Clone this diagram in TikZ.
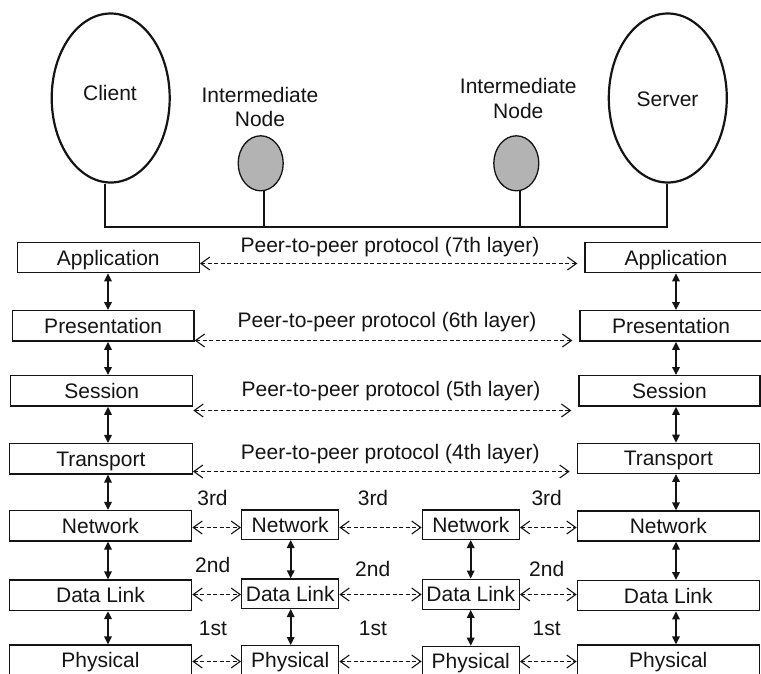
\documentclass[tikz,border=0pt]{standalone}
\usepackage{fontspec}
\setmainfont{Liberation Sans}
\usetikzlibrary{shapes.geometric,arrows.meta}
\definecolor{ink}{HTML}{141414}
\definecolor{relayfill}{HTML}{B3B3B3}
\newcommand\labfont{\fontsize{21pt}{24pt}\selectfont}
\begin{document}
\begin{tikzpicture}[x=1pt,y=-1pt,
  txt/.style={inner sep=0pt, text height=15pt, text depth=0pt, font=\labfont, text=ink},
  lay/.style={txt, draw=ink, line width=1.3pt, minimum height=30.4pt},
  host/.style={ellipse, draw=ink, line width=2.2pt, inner sep=0pt, minimum width=118pt, minimum height=169pt},
  relay/.style={ellipse, draw=ink, fill=relayfill, line width=1.3pt, inner sep=0pt, minimum width=45pt, minimum height=55pt},
  wire/.style={draw=ink, line width=2pt},
  updn/.style={draw=ink, line width=1.6pt, {Triangle[length=8pt,width=7.5pt]}-{Triangle[length=8pt,width=7.5pt]}},
  barb/.tip={Straight Barb[length=9pt,width=13pt,line width=1.1pt]},
  peer/.style={draw=ink, line width=1.1pt, dash pattern=on 4pt off 2.5pt, barb-barb}
]
\useasboundingbox (0,0) rectangle (761,673);
\clip (0,0) rectangle (761,673);

% hosts
\node[host] (client) at (110.7,98) {};
\node[txt] (clientlab) at (110,93) {Client};
\node[host] (server) at (667.8,98) {};
\node[txt] (serverlab) at (667.5,99.3) {Server};
\node[relay] (relay1) at (260.7,163.3) {};
\node[relay] (relay2) at (516.3,163.3) {};
\node[txt] (r1a) at (260,95) {Intermediate};
\node[txt] (r1b) at (260,118.7) {Node};
\node[txt] (r2a) at (518.3,86.3) {Intermediate};
\node[txt] (r2b) at (518.3,110.8) {Node};

% bus
\coordinate (b1) at (105.3,226.7);
\coordinate (b2) at (264.3,226.7);
\coordinate (b3) at (520,226.7);
\coordinate (b4) at (667.3,226.7);
\draw[wire, line join=miter] (client.south -| b1) -- (b1) -- (b4) -- (server.south -| b4);
\draw[wire] (relay1.south -| b2) -- (b2);
\draw[wire] (relay2.south -| b3) -- (b3);

% left stack
\node[lay, minimum width=182pt] (appL) at (108.3,257.5) {Application};
\node[lay, minimum width=181.7pt] (presL) at (103.2,325.9) {Presentation};
\node[lay, minimum width=182pt] (sessL) at (101.7,390.9) {Session};
\node[lay, minimum width=183pt] (transL) at (100.8,458.7) {Transport};
\node[lay, minimum width=182.4pt] (netL) at (100.5,525.7) {Network};
\node[lay, minimum width=182.4pt] (dlL) at (100.5,595.3) {Data Link};
\node[lay, minimum width=182.4pt] (physL) at (100.5,660.2) {Physical};

% intermediate stacks
\node[lay, minimum width=97pt, minimum height=29.3pt] (net1) at (290.2,524.7) {Network};
\node[lay, minimum width=97pt, minimum height=29.3pt] (dl1) at (290.2,593.7) {Data Link};
\node[lay, minimum width=97pt, minimum height=29.3pt] (phys1) at (290.2,660.3) {Physical};
\node[lay, minimum width=97pt, minimum height=29.3pt] (net2) at (470.8,524.7) {Network};
\node[lay, minimum width=97pt, minimum height=30pt] (dl2) at (470.8,594.2) {Data Link};
\node[lay, minimum width=97pt, minimum height=29.3pt] (phys2) at (470.8,661) {Physical};

% right stack
\node[lay, minimum width=182pt] (appR) at (676,257.5) {Application};
\node[lay, minimum width=182pt] (presR) at (671,325.9) {Presentation};
\node[lay, minimum width=181pt] (sessR) at (669.5,390.9) {Session};
\node[lay, minimum width=182pt, minimum height=30pt] (transR) at (668.3,458.3) {Transport};
\node[lay, minimum width=182pt, minimum height=30pt] (netR) at (668.3,526) {Network};
\node[lay, minimum width=182pt, minimum height=30pt] (dlR) at (668.3,595.7) {Data Link};
\node[lay, minimum width=182pt, minimum height=30pt] (physR) at (668.3,660) {Physical};

% vertical arrows
\coordinate (colL) at (108,0);
\coordinate (colM1) at (290.7,0);
\coordinate (colM2) at (470.7,0);
\coordinate (colR) at (676,0);
\draw[updn] (appL.south -| colL) -- (presL.north -| colL);
\draw[updn] (presL.south -| colL) -- (sessL.north -| colL);
\draw[updn] (sessL.south -| colL) -- (transL.north -| colL);
\draw[updn] (transL.south -| colL) -- (netL.north -| colL);
\draw[updn] (netL.south -| colL) -- (dlL.north -| colL);
\draw[updn] (dlL.south -| colL) -- (physL.north -| colL);
\draw[updn] (net1.south -| colM1) -- (dl1.north -| colM1);
\draw[updn] (dl1.south -| colM1) -- (phys1.north -| colM1);
\draw[updn] (net2.south -| colM2) -- (dl2.north -| colM2);
\draw[updn] (dl2.south -| colM2) -- (phys2.north -| colM2);
\draw[updn] (appR.south -| colR) -- (presR.north -| colR);
\draw[updn] (presR.south -| colR) -- (sessR.north -| colR);
\draw[updn] (sessR.south -| colR) -- (transR.north -| colR);
\draw[updn] (transR.south -| colR) -- (netR.north -| colR);
\draw[updn] (netR.south -| colR) -- (dlR.north -| colR);
\draw[updn] (dlR.south -| colR) -- (physR.north -| colR);

% peer-to-peer dashed arrows (upper layers)
\coordinate (r7) at (0,263.5);
\coordinate (r6) at (0,340.5);
\coordinate (r5) at (0,410.5);
\coordinate (r4) at (0,471.5);
\draw[peer, shorten >=7pt] (appL.east |- r7) -- (appR.west |- r7);
\draw[peer, shorten >=7pt] (presL.east |- r6) -- (presR.west |- r6);
\draw[peer, shorten >=7pt] (sessL.east |- r5) -- (sessR.west |- r5);
\draw[peer, shorten >=7pt] (transL.east |- r4) -- (transR.west |- r4);
\node[txt] (p7) at (390,244.8) {Peer-to-peer protocol (7th layer)};
\node[txt] (p6) at (387,319.7) {Peer-to-peer protocol (6th layer)};
\node[txt] (p5) at (391,388.5) {Peer-to-peer protocol (5th layer)};
\node[txt] (p4) at (390.3,451.7) {Peer-to-peer protocol (4th layer)};

% lower layers hop by hop
\coordinate (rN) at (0,527.5);
\coordinate (rD) at (0,594.5);
\coordinate (rP) at (0,661.5);
\draw[peer] (netL.east |- rN) -- (net1.west |- rN);
\draw[peer] (net1.east |- rN) -- (net2.west |- rN);
\draw[peer] (net2.east |- rN) -- (netR.west |- rN);
\draw[peer] (dlL.east |- rD) -- (dl1.west |- rD);
\draw[peer] (dl1.east |- rD) -- (dl2.west |- rD);
\draw[peer] (dl2.east |- rD) -- (dlR.west |- rD);
\draw[peer] (physL.east |- rP) -- (phys1.west |- rP);
\draw[peer] (phys1.east |- rP) -- (phys2.west |- rP);
\draw[peer] (phys2.east |- rP) -- (physR.west |- rP);

\node[txt] (n3a) at (212.5,497.8) {3rd};
\node[txt] (n3b) at (373,497.5) {3rd};
\node[txt] (n3c) at (546.7,497.5) {3rd};
\node[txt] (n2a) at (212.7,565) {2nd};
\node[txt] (n2b) at (372.7,569) {2nd};
\node[txt] (n2c) at (546.7,569.3) {2nd};
\node[txt] (n1a) at (213,628) {1st};
\node[txt] (n1b) at (373,628) {1st};
\node[txt] (n1c) at (546.7,628) {1st};
\end{tikzpicture}
\end{document}
